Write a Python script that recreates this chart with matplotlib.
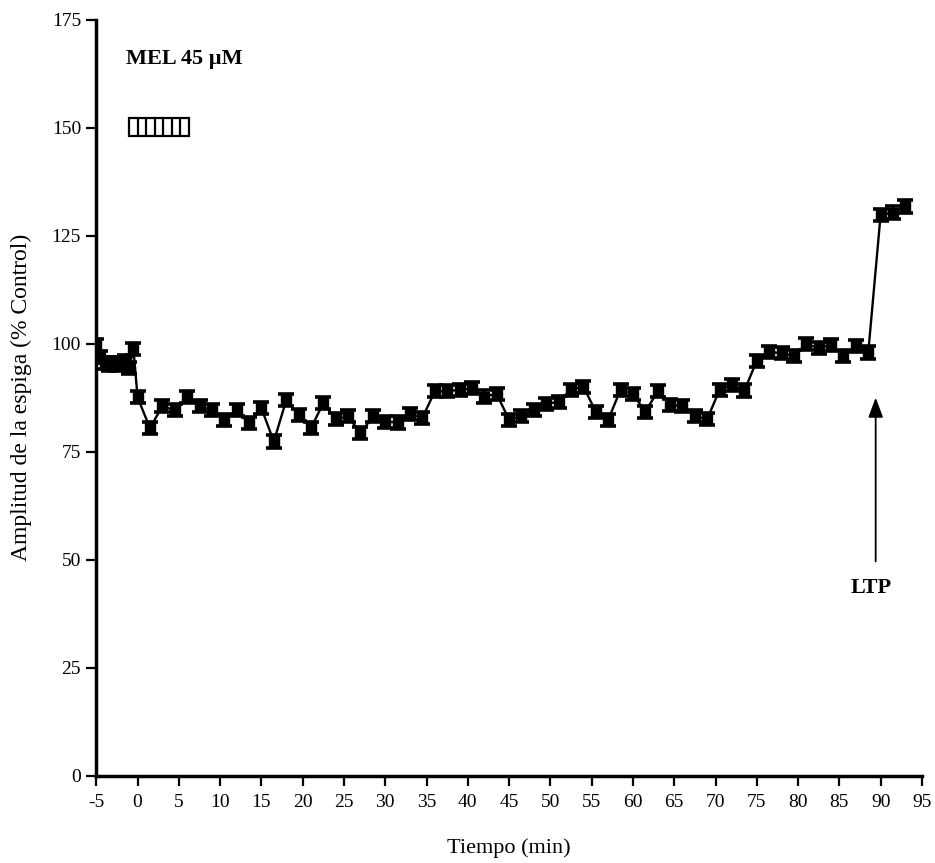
"""
Amplitud de la espiga vs tiempo — MEL 45 µM + LTP
"""
import numpy as np
import matplotlib
matplotlib.use('Agg')
import matplotlib.pyplot as plt
from matplotlib.patches import Rectangle

plt.rcParams['font.family'] = ['Liberation Serif', 'DejaVu Serif']
plt.rcParams['axes.unicode_minus'] = False

# ================================================================
# datos
# ================================================================
t_base = [-5, -4.5, -4, -3.5, -3, -2.5, -2, -1.5, -1, -0.5]
amp_base = [99.8, 97.0, 95.5, 95.0, 95.5, 95.0, 95.5, 96.0, 94.5, 98.8]

t_exp = [0, 1.5, 3, 4.5, 6, 7.5, 9, 10.5, 12,
         13.5, 15, 16.5, 18, 19.5, 21, 22.5, 24, 25.5, 27, 28.5, 30, 31.5, 33, 34.5,
         36, 37.5, 39, 40.5, 42, 43.5, 45, 46.5, 48, 49.5, 51, 52.5, 54, 55.5, 57, 58.5,
         60, 61.5, 63, 64.5, 66, 67.5, 69, 70.5, 72, 73.5, 75, 76.5, 78, 79.5, 81, 82.5,
         84, 85.5, 87, 88.5, 90, 91.5, 93]
amp_exp = [87.6, 80.5, 85.6, 84.6, 87.6, 85.6, 84.6, 82.4, 84.6,
           81.6, 85.1, 77.4, 86.9, 83.6, 80.5, 86.3, 82.6, 83.2, 79.3, 83.2, 82.0, 81.8, 83.8, 82.9,
           89.0, 89.0, 89.4, 89.7, 87.8, 88.4, 82.4, 83.3, 84.6, 86.1, 86.6, 89.4, 90.1, 84.3, 82.4, 89.4,
           88.4, 84.3, 89.0, 85.9, 85.6, 83.2, 82.6, 89.4, 90.5, 89.2, 96.1, 98.2, 97.8, 97.2, 100.0, 99.0,
           99.8, 97.1, 99.6, 98.0, 129.9, 130.4, 131.8]

t_all = t_base + t_exp
amp_all = amp_base + amp_exp
sem = 1.4

xticks = list(range(-5, 96, 5))
yticks = list(range(0, 176, 25))

mel_start, mel_end = -1.0, 6.2      # barra de aplicación
ltp_time = 89.4

# ================================================================
# gráfico
# ================================================================
fig = plt.figure(figsize=(9.35, 8.63), dpi=100)
ax = fig.add_axes([0.103, 0.101, 0.883, 0.876])

ax.plot(t_all, amp_all, color='black', linewidth=1.7, zorder=2)
ax.errorbar(t_all, amp_all, yerr=sem, fmt='s', color='black', markersize=6.5,
            ecolor='black', elinewidth=3, capsize=5.5, capthick=2.6, zorder=3)

ax.set_xlim(-5, 95)
ax.set_ylim(0, 175)
ax.set_xticks(xticks)
ax.set_yticks(yticks)

for s in ['top', 'right']:
    ax.spines[s].set_visible(False)
for s in ['left', 'bottom']:
    ax.spines[s].set_linewidth(2.5)

ax.tick_params(axis='both', direction='out', length=7, width=1.6, labelsize=14)
ax.tick_params(axis='x', pad=6)
ax.tick_params(axis='y', pad=4)

ax.set_xlabel('Tiempo (min)', fontsize=16, labelpad=20)
ax.set_ylabel('Amplitud de la espiga (% Control)', fontsize=17, labelpad=14)

# MEL
ax.text(-1.4, 166, 'MEL 45 µM', fontsize=16, fontweight='bold', ha='left', va='center')
ax.add_patch(Rectangle((mel_start, 148.2), mel_end - mel_start, 4.0,
                       facecolor='white', edgecolor='black', linewidth=1.6, zorder=4))
ax.vlines(np.linspace(mel_start, mel_end, 8)[1:-1], 148.2, 152.2,
          color='black', linewidth=1.6, zorder=5)

# LTP
ax.annotate('', xy=(ltp_time, 88.2), xytext=(ltp_time, 49),
            arrowprops=dict(arrowstyle='-|>,head_length=1.2,head_width=0.45',
                            color='black', linewidth=1.3))
ax.text(ltp_time - 0.6, 43.5, 'LTP', fontsize=16, fontweight='bold', ha='center', va='center')

plt.savefig('out.png', dpi=100)
